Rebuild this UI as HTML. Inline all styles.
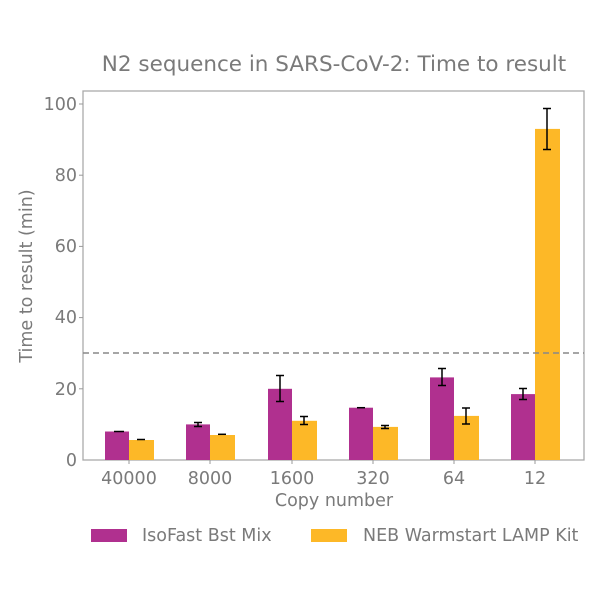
<!DOCTYPE html>
<html><head><meta charset="utf-8"><style>body{margin:0;background:#fff}svg{display:block}</style></head>
<body>
<svg width="600" height="600" xmlns="http://www.w3.org/2000/svg" font-family="DejaVu Sans, Liberation Sans, sans-serif" fill="#7a7a7a">
<text x="334" y="71" font-size="21.5" text-anchor="middle">N2 sequence in SARS-CoV-2: Time to result</text>
<rect x="83" y="91" width="501" height="369" fill="none" stroke="#aaa" stroke-width="1.3"/>
<g stroke="#999" stroke-width="1">
<line x1="79" y1="104" x2="83" y2="104"/><line x1="79" y1="175.2" x2="83" y2="175.2"/><line x1="79" y1="246.4" x2="83" y2="246.4"/><line x1="79" y1="317.6" x2="83" y2="317.6"/><line x1="79" y1="388.8" x2="83" y2="388.8"/>
<line x1="129" y1="460" x2="129" y2="464"/><line x1="210" y1="460" x2="210" y2="464"/><line x1="292" y1="460" x2="292" y2="464"/><line x1="373" y1="460" x2="373" y2="464"/><line x1="454" y1="460" x2="454" y2="464"/><line x1="535" y1="460" x2="535" y2="464"/>
</g>
<g font-size="17.5" text-anchor="end">
<text x="77" y="110">100</text><text x="77" y="181">80</text><text x="77" y="252">60</text><text x="77" y="323">40</text><text x="77" y="395">20</text><text x="77" y="466">0</text>
</g>
<g font-size="17.5" text-anchor="middle">
<text x="129" y="484">40000</text><text x="210" y="484">8000</text><text x="292" y="484">1600</text><text x="373" y="484">320</text><text x="454" y="484">64</text><text x="535" y="484">12</text>
<text x="334" y="506">Copy number</text>
</g>
<text transform="translate(32,276) rotate(-90)" font-size="17.5" text-anchor="middle">Time to result (min)</text>
<g fill="#b0308f">
<rect x="105" y="431.5" width="24" height="28.5"/><rect x="186" y="424.4" width="24" height="35.6"/><rect x="268" y="388.8" width="24" height="71.2"/><rect x="349" y="407.7" width="24" height="52.3"/><rect x="430" y="377.4" width="24" height="82.6"/><rect x="511" y="394.1" width="24" height="65.9"/>
</g>
<g fill="#fdb827">
<rect x="129" y="440" width="25" height="20"/><rect x="210" y="435" width="25" height="25"/><rect x="292" y="420.8" width="25" height="39.2"/><rect x="373" y="426.9" width="25" height="33.1"/><rect x="454" y="415.9" width="25" height="44.1"/><rect x="535" y="128.9" width="25" height="331.1"/>
</g>
<line x1="83" y1="353" x2="584" y2="353" stroke="#888" stroke-width="1.5" stroke-dasharray="6,4"/>
<g stroke="#000" stroke-width="1.5">
<path d="M114 431.5h10"/>
<path d="M137 439.5h8"/>
<path d="M194 422.5h8M198 422.5v4M194 426.5h8"/>
<path d="M218 434.3h8"/>
<path d="M276 375.5h8M280 375.5v26M276 401.5h8"/>
<path d="M300 416.5h8M304 416.5v8M300 424.5h8"/>
<path d="M357 407.7h8"/>
<path d="M381 425.5h8M385 425.5v3M381 428.5h8"/>
<path d="M438 368.5h8M442 368.5v17M438 385.5h8"/>
<path d="M462 408h8M466 408v16M462 424h8"/>
<path d="M519 388.5h8M523 388.5v11M519 399.5h8"/>
<path d="M543 108.5h8M547 108.5v41M543 149.5h8"/>
</g>
<rect x="91" y="529" width="36" height="13" fill="#b0308f"/>
<text x="142" y="541" font-size="17.5">IsoFast Bst Mix</text>
<rect x="311" y="529" width="36" height="13" fill="#fdb827"/>
<text x="363" y="541" font-size="17.5">NEB Warmstart LAMP Kit</text>
</svg>
</body></html>
